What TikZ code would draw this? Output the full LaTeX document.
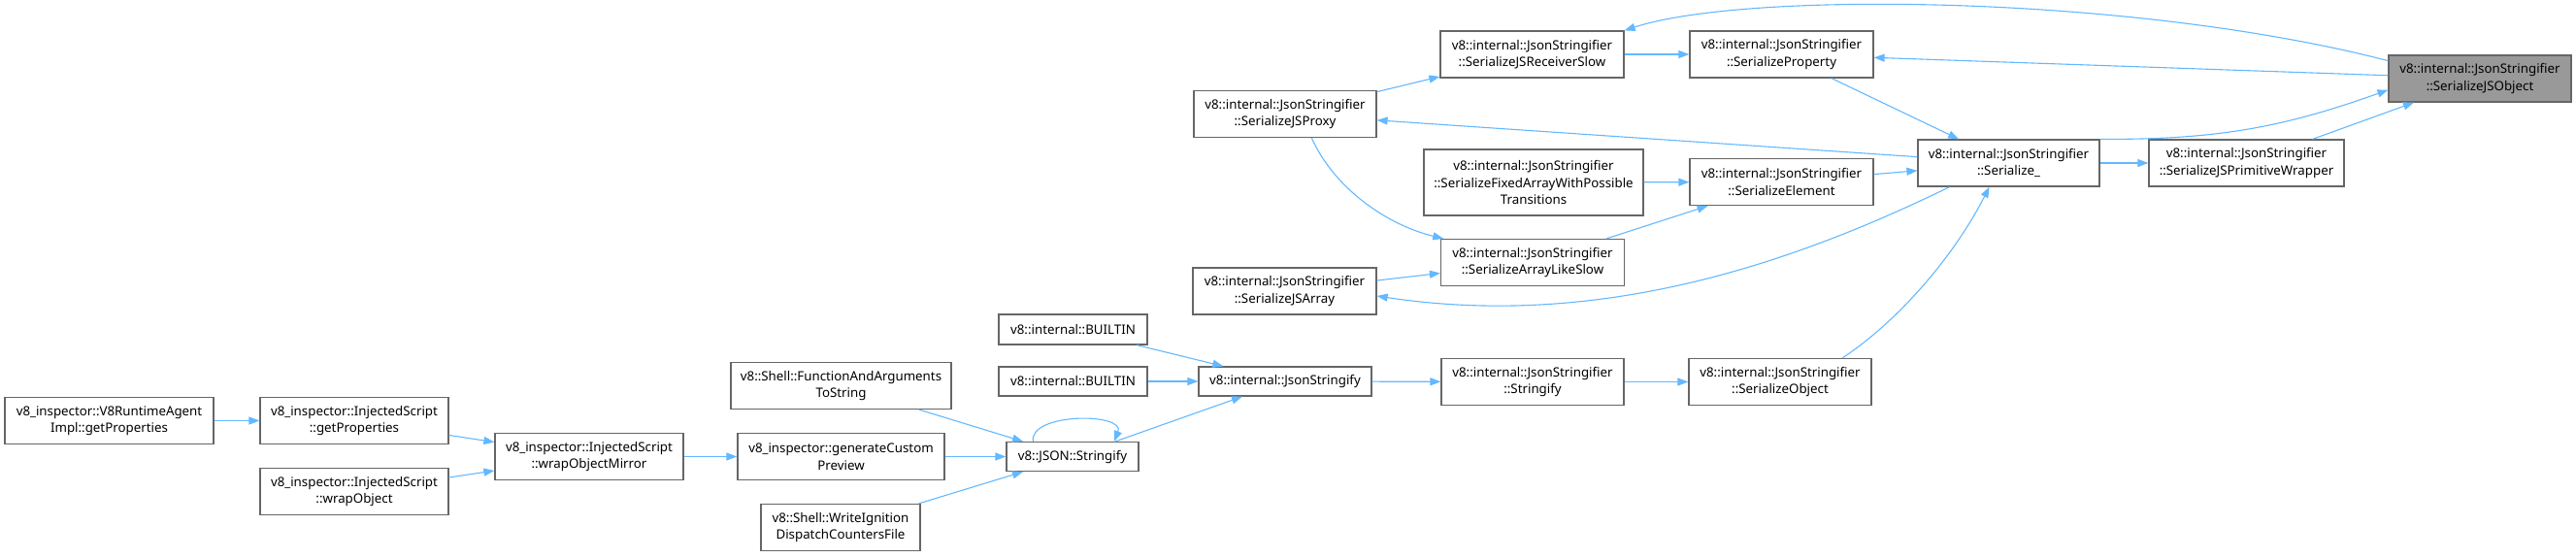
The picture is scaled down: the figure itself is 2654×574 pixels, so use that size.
\documentclass[tikz,border=0pt]{standalone}
\usepackage{fontspec}
\setmainfont{Noto Sans}
\usetikzlibrary{arrows.meta}
\definecolor{edgeblue}{RGB}{99,184,255}
\definecolor{boxline}{RGB}{102,102,102}
\definecolor{selfgray}{RGB}{153,153,153}

\begin{document}
\begin{tikzpicture}[x=1pt, y=-1pt,
    fn/.style={draw=boxline, line width=1.2pt, fill=white, inner sep=0pt, align=center,
      font=\fontsize{13.3}{17.5}\selectfont, minimum height=48pt},
    call/.style={-{Triangle[length=11pt, width=8pt]}, edgeblue, line width=1.1pt}]

\useasboundingbox (0,0) rectangle (2654,574);

% The function itself, far right
\node[fn, fill=selfgray, minimum width=188pt] (jsobj) at (2555,81) {v8::internal::JsonStringifier\\::SerializeJSObject};

% JsonStringifier members
\node[fn, minimum width=189pt] (recvslow)  at (1578.5,56)  {v8::internal::JsonStringifier\\::SerializeJSReceiverSlow};
\node[fn, minimum width=189pt] (property)  at (1835.5,56)  {v8::internal::JsonStringifier\\::SerializeProperty};
\node[fn, minimum width=188pt] (jsproxy)   at (1324,117.5) {v8::internal::JsonStringifier\\::SerializeJSProxy};
\node[fn, minimum width=187pt] (serialize) at (2069.5,168) {v8::internal::JsonStringifier\\::Serialize\_};
\node[fn, minimum width=201pt] (primwrap)  at (2314.5,168) {v8::internal::JsonStringifier\\::SerializeJSPrimitiveWrapper};
\node[fn, minimum width=226pt, minimum height=68pt] (fixedarr) at (1580,188) {v8::internal::JsonStringifier\\::SerializeFixedArrayWithPossible\\Transitions};
\node[fn, minimum width=189pt] (element)   at (1835.5,187.5) {v8::internal::JsonStringifier\\::SerializeElement};
\node[fn, minimum width=189pt] (arrlike)   at (1579,270.5) {v8::internal::JsonStringifier\\::SerializeArrayLikeSlow};
\node[fn, minimum width=189pt] (jsarray)   at (1323.5,300) {v8::internal::JsonStringifier\\::SerializeJSArray};
\node[fn, minimum width=188pt] (stringify) at (1579,393.5) {v8::internal::JsonStringifier\\::Stringify};
\node[fn, minimum width=188pt] (serobj)    at (1834,393.5) {v8::internal::JsonStringifier\\::SerializeObject};

% Entry points
\node[fn, minimum width=153pt, minimum height=31pt] (builtinA) at (1105.5,339.5) {v8::internal::BUILTIN};
\node[fn, minimum width=153pt, minimum height=30pt] (builtinB) at (1105.5,393)   {v8::internal::BUILTIN};
\node[fn, minimum width=178pt, minimum height=30pt] (jsonstr)  at (1324,393)     {v8::internal::JsonStringify};
\node[fn, minimum width=136pt, minimum height=30pt] (jsonapi)  at (1105,470.5)   {v8::JSON::Stringify};
\node[fn, minimum width=227pt] (fnargs)   at (866.5,397.5) {v8::Shell::FunctionAndArguments\\ToString};
\node[fn, minimum width=213pt] (preview)  at (866.5,470.5) {v8\_inspector::generateCustom\\Preview};
\node[fn, minimum width=164pt] (writeign) at (866,543.5)   {v8::Shell::WriteIgnition\\DispatchCountersFile};
\node[fn, minimum width=194pt] (mirror)   at (607,470.5)   {v8\_inspector::InjectedScript\\::wrapObjectMirror};
\node[fn, minimum width=194pt] (getprops) at (365,433.5)   {v8\_inspector::InjectedScript\\::getProperties};
\node[fn, minimum width=194pt] (wrapobj)  at (365,506.5)   {v8\_inspector::InjectedScript\\::wrapObject};
\node[fn, minimum width=215pt] (agent)    at (112.5,433.5) {v8\_inspector::V8RuntimeAgent\\Impl::getProperties};

% Straight calls
\foreach \src/\dst in {recvslow/property, jsproxy/recvslow, jsobj/property, property/serialize,
    primwrap/jsobj, serialize/primwrap, serialize/jsproxy, fixedarr/element, element/serialize,
    arrlike/element, jsarray/arrlike, builtinA/jsonstr, builtinB/jsonstr, jsonstr/stringify,
    stringify/serobj, jsonapi/jsonstr, fnargs/jsonapi, preview/jsonapi, writeign/jsonapi,
    mirror/preview, getprops/mirror, wrapobj/mirror, agent/getprops} {
  \draw[call] (\src) -- (\dst);
}

% Curved calls (cycles back through Serialize_)
\draw[call] (jsobj.169) .. controls (2200,-5) and (1800,-10) .. (recvslow.north east);
\draw[call] (serialize.north east) to[bend right=10] (jsobj.187);
\draw[call] (jsproxy.-42) .. controls (1375,195) and (1430,232) .. (arrlike.165);
\draw[call] (serialize.202) .. controls (1850,270) and (1650,340) .. (jsarray.-3);
\draw[call] (serobj.21) .. controls (1950,335) and (2010,270) .. (serialize.231);
\draw[call] (jsonapi.159) .. controls (1060,425) and (1160,425) .. (jsonapi.20);

\end{tikzpicture}
\end{document}
